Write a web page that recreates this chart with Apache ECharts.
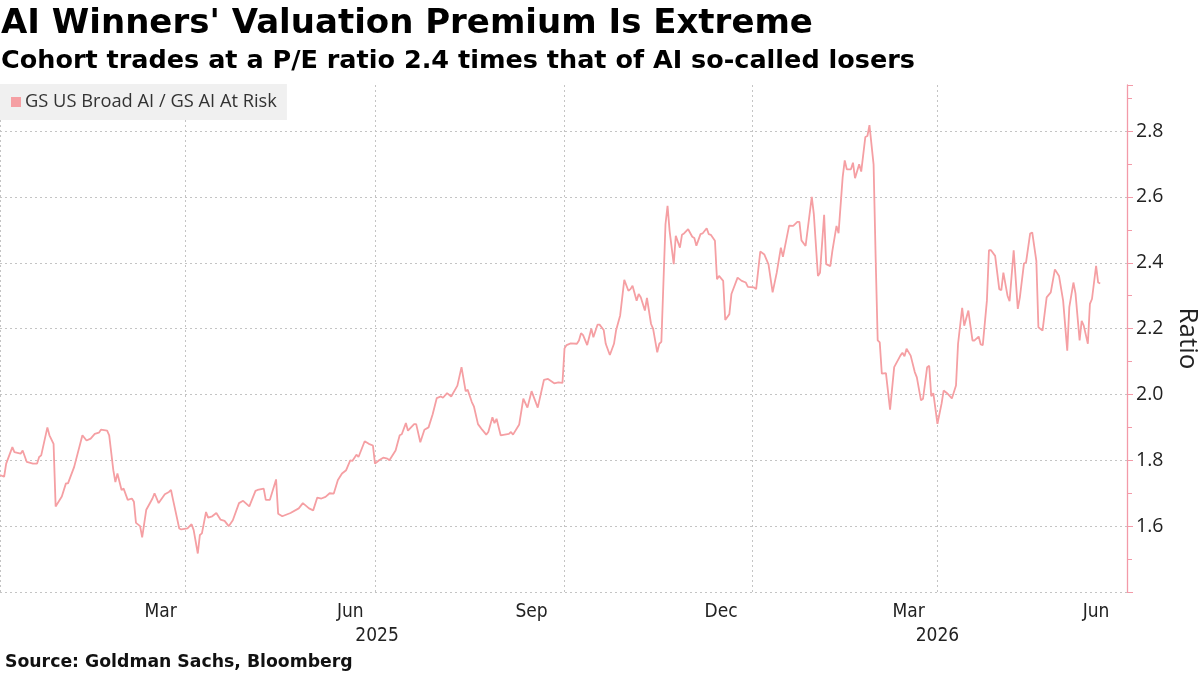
<!DOCTYPE html>
<html>
<head>
<meta charset="utf-8">
<script src="https://cdn.jsdelivr.net/npm/echarts@6/dist/echarts.min.js"></script>
<style>
  html, body { margin: 0; padding: 0; background: #fff; }
  #chart { width: 1200px; height: 675px; }
</style>
</head>
<body>
<div id="chart"></div>
<script>
const titleText = "AI Winners' Valuation Premium Is Extreme";
const subtitleText = "Cohort trades at a P/E ratio 2.4 times that of AI so-called losers";
const sourceText = "Source: Goldman Sachs, Bloomberg";
const seriesName = "GS US Broad AI / GS AI At Risk";
const yAxisName = "Ratio";

const dates = [
  '2024-12-01','2024-12-03','2024-12-04','2024-12-07','2024-12-08','2024-12-11','2024-12-12','2024-12-14','2024-12-17','2024-12-19',
  '2024-12-20','2024-12-21','2024-12-24','2024-12-25','2024-12-27','2024-12-28','2024-12-31','2025-01-02','2025-01-03','2025-01-06',
  '2025-01-10','2025-01-12','2025-01-14','2025-01-16','2025-01-18','2025-01-19','2025-01-22','2025-01-23','2025-01-25','2025-01-26',
  '2025-01-27','2025-01-29','2025-01-30','2025-02-01','2025-02-03','2025-02-04','2025-02-05','2025-02-07','2025-02-08','2025-02-10',
  '2025-02-13','2025-02-14','2025-02-16','2025-02-19','2025-02-21','2025-02-22','2025-02-23','2025-02-26','2025-02-27','2025-03-02',
  '2025-03-04','2025-03-05','2025-03-07','2025-03-08','2025-03-09','2025-03-11','2025-03-12','2025-03-14','2025-03-16','2025-03-18',
  '2025-03-20','2025-03-22','2025-03-24','2025-03-27','2025-03-29','2025-04-01','2025-04-04','2025-04-05','2025-04-08','2025-04-09',
  '2025-04-11','2025-04-14','2025-04-15','2025-04-17','2025-04-21','2025-04-25','2025-04-27','2025-04-30','2025-05-02','2025-05-04',
  '2025-05-06','2025-05-08','2025-05-10','2025-05-12','2025-05-14','2025-05-16','2025-05-18','2025-05-20','2025-05-21','2025-05-23',
  '2025-05-24','2025-05-27','2025-05-29','2025-05-31','2025-06-01','2025-06-03','2025-06-05','2025-06-07','2025-06-08','2025-06-11',
  '2025-06-13','2025-06-14','2025-06-16','2025-06-17','2025-06-20','2025-06-21','2025-06-23','2025-06-25','2025-06-27','2025-06-29',
  '2025-07-01','2025-07-03','2025-07-04','2025-07-06','2025-07-08','2025-07-11','2025-07-13','2025-07-15','2025-07-16','2025-07-18',
  '2025-07-19','2025-07-21','2025-07-23','2025-07-25','2025-07-26','2025-07-28','2025-07-29','2025-07-30','2025-08-01','2025-08-03',
  '2025-08-05','2025-08-06','2025-08-07','2025-08-10','2025-08-12','2025-08-14','2025-08-16','2025-08-19','2025-08-22','2025-08-24',
  '2025-08-27','2025-08-29','2025-08-31','2025-09-01','2025-09-02','2025-09-04','2025-09-07','2025-09-08','2025-09-09','2025-09-10',
  '2025-09-12','2025-09-14','2025-09-15','2025-09-17','2025-09-18','2025-09-20','2025-09-21','2025-09-23','2025-09-25','2025-09-26',
  '2025-09-28','2025-09-30','2025-10-02','2025-10-03','2025-10-04','2025-10-06','2025-10-07','2025-10-08','2025-10-10','2025-10-11',
  '2025-10-13','2025-10-14','2025-10-16','2025-10-17','2025-10-18','2025-10-20','2025-10-21','2025-10-22','2025-10-24','2025-10-25',
  '2025-10-27','2025-10-28','2025-10-29','2025-10-31','2025-11-02','2025-11-03','2025-11-04','2025-11-06','2025-11-07','2025-11-09',
  '2025-11-10','2025-11-11','2025-11-13','2025-11-14','2025-11-15','2025-11-17','2025-11-18','2025-11-20','2025-11-21','2025-11-24',
  '2025-11-26','2025-11-28','2025-11-29','2025-12-02','2025-12-03','2025-12-05','2025-12-07','2025-12-09','2025-12-11','2025-12-13',
  '2025-12-15','2025-12-16','2025-12-19','2025-12-21','2025-12-23','2025-12-24','2025-12-25','2025-12-27','2025-12-30','2025-12-31',
  '2026-01-02','2026-01-03','2026-01-05','2026-01-06','2026-01-08','2026-01-09','2026-01-11','2026-01-12','2026-01-14','2026-01-15',
  '2026-01-16','2026-01-18','2026-01-19','2026-01-20','2026-01-22','2026-01-23','2026-01-25','2026-01-26','2026-01-27','2026-01-29',
  '2026-01-30','2026-01-31','2026-02-01','2026-02-02','2026-02-04','2026-02-06','2026-02-08','2026-02-11','2026-02-12','2026-02-13',
  '2026-02-14','2026-02-16','2026-02-18','2026-02-19','2026-02-21','2026-02-22','2026-02-24','2026-02-25','2026-02-26','2026-02-27',
  '2026-03-01','2026-03-03','2026-03-04','2026-03-06','2026-03-08','2026-03-10','2026-03-11','2026-03-13','2026-03-14','2026-03-16',
  '2026-03-18','2026-03-19','2026-03-21','2026-03-22','2026-03-23','2026-03-25','2026-03-26','2026-03-27','2026-03-29','2026-03-31',
  '2026-04-01','2026-04-02','2026-04-04','2026-04-05','2026-04-07','2026-04-09','2026-04-10','2026-04-12','2026-04-13','2026-04-15',
  '2026-04-16','2026-04-18','2026-04-19','2026-04-21','2026-04-23','2026-04-25','2026-04-27','2026-04-29','2026-05-01','2026-05-03',
  '2026-05-04','2026-05-06','2026-05-07','2026-05-09','2026-05-10','2026-05-11','2026-05-13','2026-05-14','2026-05-15','2026-05-17',
  '2026-05-18','2026-05-19'
];

const ratios = [
  1.755,1.75,1.79,1.84,1.825,1.82,1.83,1.795,1.79,1.79,
  1.81,1.815,1.90,1.876,1.85,1.66,1.69,1.73,1.73,1.78,
  1.876,1.86,1.866,1.88,1.884,1.893,1.89,1.876,1.77,1.734,
  1.76,1.71,1.714,1.68,1.684,1.674,1.61,1.60,1.566,1.65,
  1.684,1.70,1.67,1.697,1.704,1.71,1.68,1.593,1.59,1.593,
  1.606,1.588,1.517,1.573,1.578,1.643,1.626,1.63,1.64,1.62,
  1.616,1.60,1.618,1.67,1.677,1.66,1.707,1.71,1.714,1.68,
  1.68,1.742,1.638,1.63,1.64,1.654,1.67,1.654,1.648,1.687,
  1.684,1.689,1.70,1.699,1.74,1.76,1.77,1.80,1.798,1.817,
  1.81,1.858,1.85,1.845,1.79,1.80,1.808,1.805,1.80,1.83,
  1.876,1.879,1.913,1.89,1.91,1.91,1.855,1.893,1.90,1.94,
  1.989,1.994,1.99,2.004,1.994,2.027,2.083,2.01,2.014,1.977,
  1.964,1.91,1.893,1.878,1.886,1.931,1.913,1.926,1.876,1.878,
  1.88,1.886,1.878,1.909,1.987,1.96,2.01,1.96,2.044,2.047,
  2.034,2.037,2.035,2.14,2.15,2.155,2.154,2.164,2.186,2.18,
  2.15,2.20,2.174,2.212,2.212,2.196,2.154,2.12,2.154,2.194,
  2.24,2.348,2.315,2.32,2.33,2.285,2.305,2.295,2.255,2.293,
  2.214,2.199,2.128,2.154,2.16,2.517,2.573,2.497,2.396,2.482,
  2.446,2.485,2.489,2.502,2.479,2.475,2.452,2.487,2.489,2.505,
  2.487,2.485,2.467,2.35,2.36,2.345,2.226,2.244,2.305,2.355,
  2.345,2.34,2.327,2.325,2.32,2.434,2.425,2.395,2.31,2.37,
  2.446,2.418,2.513,2.512,2.524,2.524,2.468,2.451,2.60,2.548,
  2.36,2.37,2.546,2.396,2.39,2.436,2.512,2.49,2.66,2.711,
  2.684,2.684,2.704,2.657,2.699,2.677,2.782,2.785,2.818,2.699,
  2.416,2.164,2.158,2.063,2.065,1.954,2.083,2.118,2.127,2.116,
  2.139,2.118,2.068,2.052,1.982,1.987,2.083,2.087,1.995,2.004,
  1.911,1.972,2.012,2.002,1.988,2.027,2.154,2.263,2.209,2.255,
  2.164,2.164,2.176,2.152,2.15,2.285,2.438,2.438,2.421,2.32,
  2.317,2.37,2.30,2.283,2.438,2.26,2.295,2.398,2.401,2.489,
  2.492,2.406,2.204,2.194,2.295,2.31,2.38,2.36,2.285,2.133,
  2.265,2.34,2.307,2.164,2.224,2.209,2.154,2.275,2.29,2.391,
  2.34,2.337
];

// x-axis: one category per calendar day
const axisStart = '2024-12-01';
const axisEnd = '2026-06-01';
const gridDates = ['2024-12-01','2025-03-01','2025-06-01','2025-09-01','2025-12-01','2026-03-01','2026-06-01'];
const monthLabelDates = ['2025-02-17','2025-05-20','2025-08-16','2025-11-16','2026-02-15','2026-05-17'];
const monthLabels = ['Mar','Jun','Sep','Dec','Mar','Jun'];
const yearLabelDates = ['2025-06-02','2026-03-01'];
const yearLabels = ['2025','2026'];

const days = [];
for (let t = Date.parse(axisStart + 'T00:00:00Z'); t <= Date.parse(axisEnd + 'T00:00:00Z'); t += 86400000) {
  days.push(new Date(t).toISOString().slice(0, 10));
}
const gridSet = new Set(gridDates);
const monthMap = {}; monthLabelDates.forEach((d, i) => monthMap[d] = monthLabels[i]);
const yearMap = {}; yearLabelDates.forEach((d, i) => yearMap[d] = yearLabels[i]);

const lineColor = '#f59fa3';
const axisColor = '#f39aa8';
const gridColor = '#c4c4c4';
const tickFont = 'DejaVu Sans Condensed, Liberation Sans Narrow, DejaVu Sans';

const chart = echarts.init(document.getElementById('chart'), null, { renderer: 'canvas' });
chart.setOption({
  animation: false,
  backgroundColor: '#ffffff',
  title: [
    { text: titleText, left: 1, top: 7, padding: 0,
      textStyle: { fontFamily: 'DejaVu Sans', fontWeight: 'bold', fontSize: 34, color: '#000' } },
    { text: subtitleText, left: 1, top: 48, padding: 0,
      textStyle: { fontFamily: 'DejaVu Sans', fontWeight: 'bold', fontSize: 25.5, color: '#000' } },
    { text: sourceText, left: 5, top: 654, padding: 0,
      textStyle: { fontFamily: 'DejaVu Sans', fontWeight: 'bold', fontSize: 17.3, color: '#111' } }
  ],
  legend: {
    left: 0, top: 84,
    backgroundColor: '#f0f0f0',
    padding: [9, 10, 9, 11],
    itemWidth: 10, itemHeight: 10, itemGap: 4,
    icon: 'rect',
    textStyle: { fontFamily: 'Open Sans', fontSize: 18.3, color: '#333', padding: [0, 0, 0, -1] },
    data: [seriesName]
  },
  grid: { left: 0, right: 73, top: 85, bottom: 83, containLabel: false, outerBoundsMode: 'none' },
  xAxis: [
    {
      type: 'category', data: days, boundaryGap: false, position: 'bottom',
      axisLine: { show: false },
      axisTick: { show: false },
      splitLine: { show: true, interval: (i, v) => gridSet.has(v),
        lineStyle: { color: gridColor, type: [2, 3], width: 1 } },
      axisLabel: {
        interval: (i, v) => monthMap[v] !== undefined,
        formatter: v => monthMap[v] || '',
        margin: 11, fontFamily: tickFont, fontSize: 19, color: '#222'
      }
    },
    {
      type: 'category', data: days, boundaryGap: false, position: 'bottom',
      axisLine: { show: false }, axisTick: { show: false }, splitLine: { show: false },
      axisLabel: {
        interval: (i, v) => yearMap[v] !== undefined,
        formatter: v => yearMap[v] || '',
        margin: 35, fontFamily: tickFont, fontSize: 19, color: '#222'
      }
    }
  ],
  yAxis: {
    type: 'value', position: 'right', min: 1.4, max: 2.94, interval: 0.2,
    name: yAxisName, nameLocation: 'middle', nameRotate: -90, nameGap: 45,
    nameTextStyle: { fontFamily: 'Open Sans', fontSize: 26, color: '#222' },
    axisLine: { show: true, lineStyle: { color: axisColor, width: 1.3 } },
    axisTick: { show: true, length: 6, lineStyle: { color: axisColor } },
    minorTick: { show: true, splitNumber: 2, length: 5, lineStyle: { color: axisColor } },
    axisLabel: {
      showMinLabel: false, showMaxLabel: false, margin: 9,
      fontFamily: 'Open Sans', fontSize: 19.5, color: '#222',
      formatter: v => v.toFixed(1)
    },
    splitLine: { show: true, lineStyle: {
      color: [gridColor, gridColor, gridColor, gridColor, gridColor, gridColor, gridColor, gridColor, 'rgba(0,0,0,0)'],
      type: [2, 3], width: 1 } }
  },
  series: [{
    name: seriesName, type: 'line', xAxisIndex: 0,
    data: dates.map((d, i) => [d, ratios[i]]),
    showSymbol: false, symbol: 'none',
    lineStyle: { color: lineColor, width: 1.8 },
    itemStyle: { color: lineColor }
  }]
});
</script>
</body>
</html>
